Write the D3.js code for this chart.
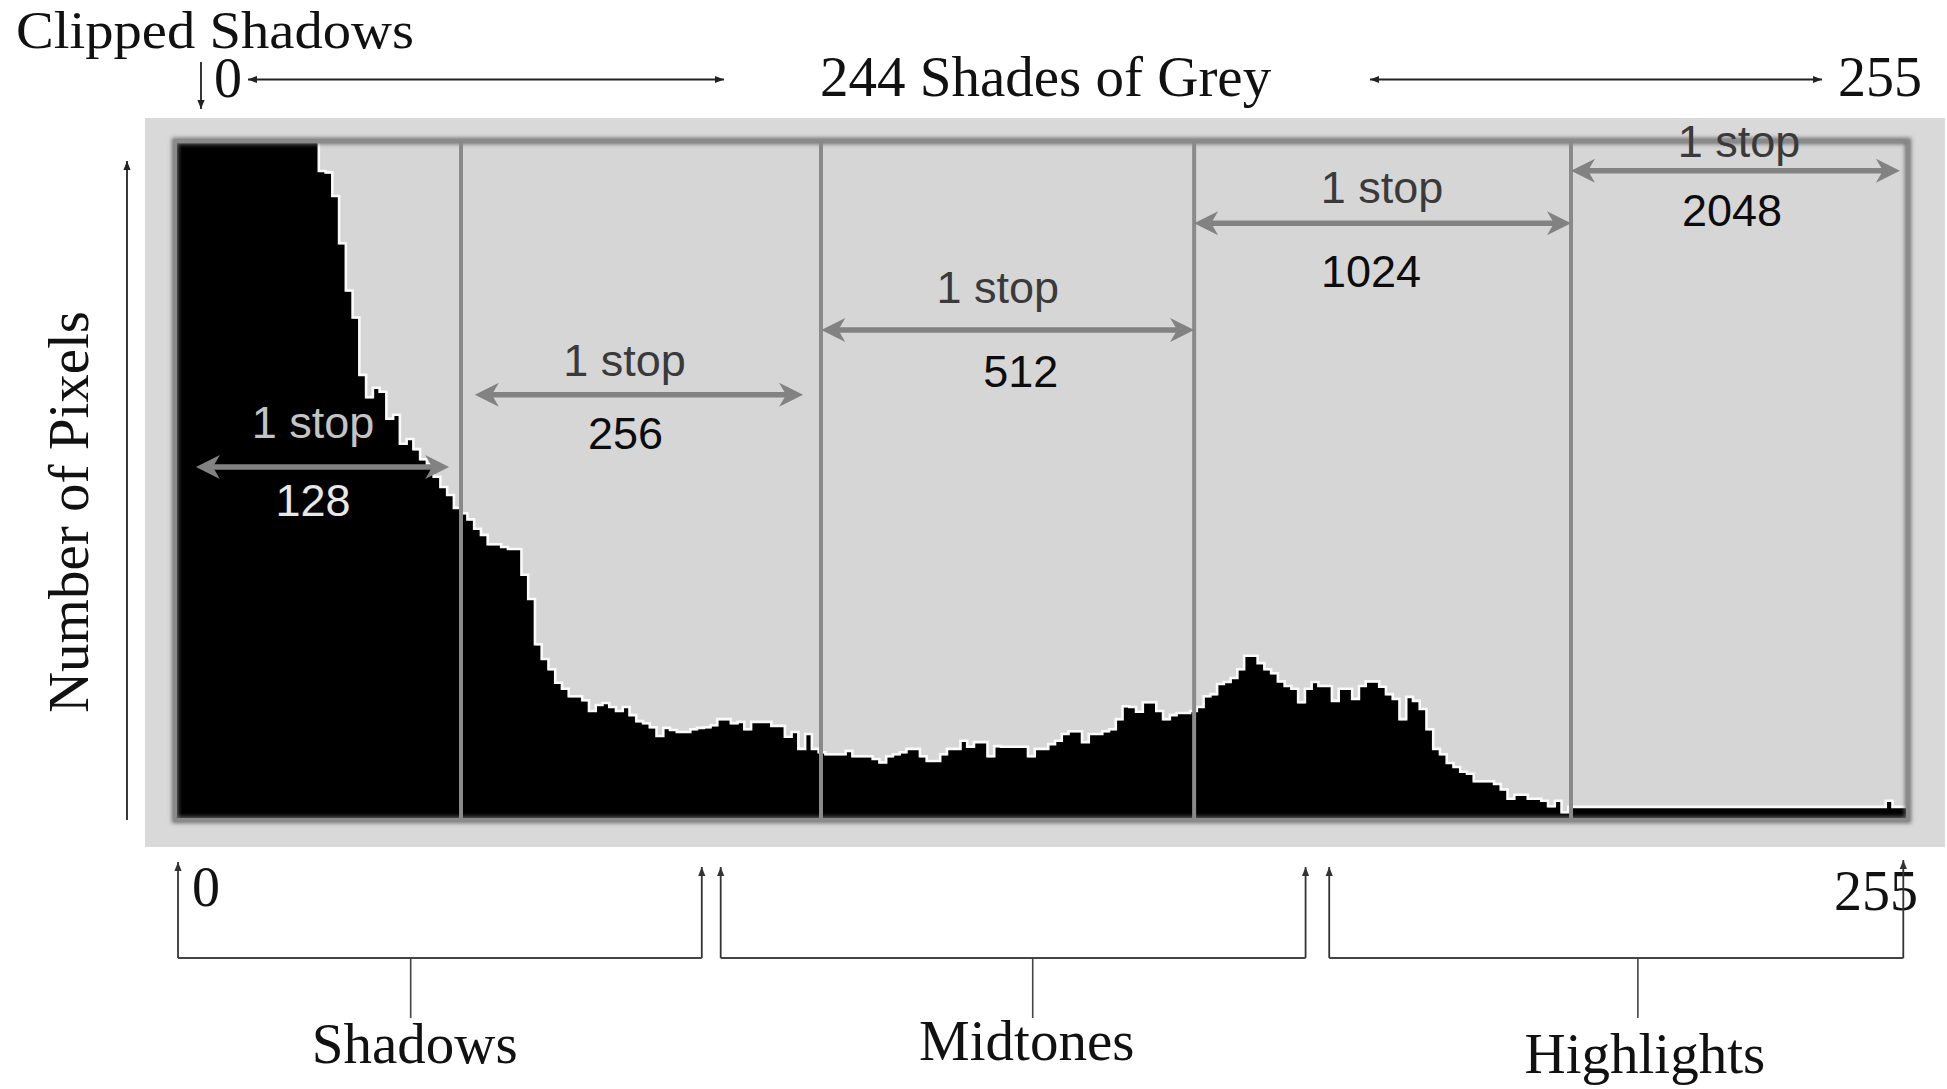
<!DOCTYPE html>
<html><head><meta charset="utf-8">
<script src="https://cdn.jsdelivr.net/npm/d3@7"></script>
<style>html,body{margin:0;padding:0;background:#fff;} svg{display:block}</style>
</head><body>
<svg id="chart" width="1947" height="1089"></svg>
<script>
// ---------------- DATA ----------------
const greyLevels = d3.range(256);
const pixelCounts = [
  1000,1000,1000,1000,1000,1000,1000,1000,1000,1000,1000,1000,1000,1000,1000,1000,1000,1000,1000,1000,1000,
  957,955,920,850,780,740,655,622,636,630,590,596,553,560,545,530,523,504,489,477,
  458,450,441,427,418,404,404,400,397,397,359,323,256,234,219,199,190,179,179,173,
  157,166,169,163,157,163,151,142,139,133,120,132,129,126,126,130,132,133,136,145,
  145,139,141,130,141,141,141,135,135,119,126,101,123,101,96,93,93,93,98,90,
  90,90,86,81,90,93,96,101,101,90,83,83,93,101,101,113,104,111,111,90,
  105,104,104,104,104,90,101,101,108,113,123,127,127,111,123,123,127,130,145,164,
  163,156,170,170,157,145,151,154,154,157,163,179,182,197,200,206,219,239,239,228,
  219,213,201,194,190,170,190,200,194,194,172,190,190,175,194,201,201,193,182,175,
  145,178,172,160,130,101,93,80,74,67,64,53,53,53,49,41,27,33,33,27,
  27,24,16,24,7,
  15,15,15,15,15,15,15,15,15,15,15,15,15,15,15,15,15,15,15,15,15,15,15,15,15,15,15,15,15,15,
  15,15,15,15,15,15,15,15,15,15,15,15,15,15,15,15,15,24,15,15
];
const clipLevel = 1000;
const stopNumbers = ["128", "256", "512", "1024", "2048"];
const stopStarts = [2.8, 44.1, 95.4, 150.6, 206.4];
const stopEnds = [40.3, 92.7, 150.6, 206.4, 255.1];
const stopLevels = [520, 627, 723, 881, 959];
const dividerLevels = [42.05, 95.35, 150.6, 206.4];
const toneNames = ["Shadows", "Midtones", "Highlights"];
const toneStarts = [0.15, 80.5, 170.6];
const toneEnds = [77.7, 167.1, 255.6];
const toneStems = [34.6, 126.7, 216.3];

// ---------------- LAYOUT ----------------
const svg = d3.select("#chart");
const X0 = 177, X1 = 1906, YB = 818, YT = 143;
const x = d3.scaleLinear().domain([0, 256]).range([X0, X1]);
const y = d3.scaleLinear().domain([0, clipLevel]).range([YB, YT]).clamp(true);
const serif = "'Liberation Serif','Times New Roman',serif";
const sans = "'Liberation Sans',Arial,sans-serif";

const defs = svg.append("defs");
defs.append("filter").attr("id", "blur").attr("x", "-5%").attr("y", "-5%").attr("width", "110%").attr("height", "110%")
  .append("feGaussianBlur").attr("stdDeviation", 2.2);
defs.append("clipPath").attr("id", "plotClip").append("rect")
  .attr("x", X0).attr("y", YT).attr("width", X1 - X0).attr("height", YB - YT);

// outer panel
svg.append("rect").attr("x", 145).attr("y", 118).attr("width", 1800).attr("height", 729).attr("fill", "#d9d9d9");
// inner plot background
svg.append("rect").attr("x", X0).attr("y", YT).attr("width", X1 - X0).attr("height", YB - YT).attr("fill", "#d6d6d6");

// histogram
const pts = greyLevels.map(i => [i, pixelCounts[i]]).concat([[256, pixelCounts[255]]]);
const g = svg.append("g").attr("clip-path", "url(#plotClip)");
g.append("path").datum(pts)
  .attr("d", d3.area().curve(d3.curveStepAfter).x(d => x(d[0])).y0(YB).y1(d => y(d[1])))
  .attr("fill", "#000");
g.append("path").datum(pts)
  .attr("d", d3.line().curve(d3.curveStepAfter).x(d => x(d[0])).y(d => y(d[1]) - 1))
  .attr("fill", "none").attr("stroke", "#fafafa").attr("stroke-width", 2.6);

// frame (soft shadow + line)
svg.append("rect").attr("x", 175).attr("y", 141).attr("width", 1733).attr("height", 679)
  .attr("fill", "none").attr("stroke", "#6e6e6e").attr("stroke-width", 6).attr("filter", "url(#blur)");
svg.append("rect").attr("x", 175).attr("y", 141).attr("width", 1733).attr("height", 679)
  .attr("fill", "none").attr("stroke", "#8a8a8a").attr("stroke-width", 3.5);
svg.append("line").attr("x1", 175).attr("x2", 1908).attr("y1", 820).attr("y2", 820)
  .attr("stroke", "#3a3a3a").attr("stroke-width", 4).attr("filter", "url(#blur)");

// stop dividers
svg.selectAll("line.divider").data(dividerLevels).join("line").attr("class", "divider")
  .attr("x1", d => x(d)).attr("x2", d => x(d)).attr("y1", 141).attr("y2", 819)
  .attr("stroke", "#8a8a8a").attr("stroke-width", 4);

// stop arrows
function bigHead(px, py, dir) {
  const L = 24, H = 12, N = 17;
  return `M${px},${py} L${px - dir * L},${py - H} L${px - dir * N},${py} L${px - dir * L},${py + H} Z`;
}
const stopTopDx = [-9.5, -14.5, -10, -0.5, 3.5];
const stopTopDy = [-29, -19, -27, -20.5, -14];
const stopNumDx = [-9.5, -13.5, 13, -11.5, -3.5];
const stopNumDy = [49, 54, 57, 63.5, 55];
const stopG = svg.append("g");
stopNumbers.forEach((lab, i) => {
  const xa = x(stopStarts[i]), xb = x(stopEnds[i]), ya = y(stopLevels[i]);
  const cx = (xa + xb) / 2;
  stopG.append("line").attr("x1", xa + 12).attr("x2", xb - 12).attr("y1", ya).attr("y2", ya)
    .attr("stroke", "#828282").attr("stroke-width", 5.5);
  stopG.append("path").attr("d", bigHead(xa, ya, -1)).attr("fill", "#828282");
  stopG.append("path").attr("d", bigHead(xb, ya, 1)).attr("fill", "#828282");
  const onBlack = i === 0;
  stopG.append("text").attr("x", cx + stopTopDx[i]).attr("y", ya + stopTopDy[i])
    .attr("text-anchor", "middle").attr("font-family", sans).attr("font-size", 45)
    .attr("fill", onBlack ? "#c4c4c4" : "#3a3a3a").text("1 stop");
  stopG.append("text").attr("x", cx + stopNumDx[i]).attr("y", ya + stopNumDy[i])
    .attr("text-anchor", "middle").attr("font-family", sans).attr("font-size", 45)
    .attr("fill", onBlack ? "#e8e8e8" : "#0c0c0c").text(lab);
});

// thin black arrows
function thinArrow(x1, y1, x2, y2, startHead, endHead, col) {
  col = col || "#222";
  const gg = svg.append("g");
  gg.append("line").attr("x1", x1).attr("y1", y1).attr("x2", x2).attr("y2", y2)
    .attr("stroke", col).attr("stroke-width", 1.8);
  const head = (px, py, ang) => {
    const L = 9, H = 3.6;
    const c = Math.cos(ang), s = Math.sin(ang);
    const p = (a, b) => [px + a * c - b * s, py + a * s + b * c];
    const A = p(0, 0), B = p(-L, -H), C = p(-L, H);
    gg.append("path").attr("d", `M${A}L${B}L${C}Z`).attr("fill", col);
  };
  const ang = Math.atan2(y2 - y1, x2 - x1);
  if (endHead) head(x2, y2, ang);
  if (startHead) head(x1, y1, ang + Math.PI);
}

// top annotations
svg.append("text").attr("x", 16).attr("y", 48).attr("font-family", serif).attr("font-size", 53)
  .attr("textLength", 398).attr("lengthAdjust", "spacingAndGlyphs").attr("fill", "#111").text("Clipped Shadows");
thinArrow(201, 62, 201, 109, false, true);
svg.append("text").attr("x", 214).attr("y", 97).attr("font-family", serif).attr("font-size", 56).attr("fill", "#111").text("0");
thinArrow(248, 79.5, 724, 79.5, true, true);
svg.append("text").attr("x", 820).attr("y", 96).attr("font-family", serif).attr("font-size", 57).attr("fill", "#111").text("244 Shades of Grey");
thinArrow(1370, 79.5, 1822, 79.5, true, true);
svg.append("text").attr("x", 1838).attr("y", 96).attr("font-family", serif).attr("font-size", 56).attr("fill", "#111").text("255");

// y axis label
thinArrow(127, 820, 127, 161, false, true);
svg.append("text").attr("transform", "translate(88,512) rotate(-90)").attr("text-anchor", "middle")
  .attr("font-family", serif).attr("font-size", 57).attr("fill", "#111").text("Number of Pixels");

// bottom brackets
const BY = 958;
svg.append("text").attr("x", 192).attr("y", 906).attr("font-family", serif).attr("font-size", 56).attr("fill", "#111").text("0");
svg.append("text").attr("x", 1834).attr("y", 910).attr("font-family", serif).attr("font-size", 56).attr("fill", "#111").text("255");
const toneLabelDy = [1063, 1060, 1073];
toneNames.forEach((name, i) => {
  const xa = x(toneStarts[i]), xb = x(toneEnds[i]), xs = x(toneStems[i]);
  const tipA = i === 0 ? 862 : 867;
  const tipB = i === 2 ? 860 : 867;
  thinArrow(xa, BY, xa, tipA, false, true, "#333");
  thinArrow(xb, BY, xb, tipB, false, true, "#333");
  svg.append("line").attr("x1", xa).attr("x2", xb).attr("y1", BY).attr("y2", BY).attr("stroke", "#444").attr("stroke-width", 2);
  svg.append("line").attr("x1", xs).attr("x2", xs).attr("y1", BY).attr("y2", 1018).attr("stroke", "#444").attr("stroke-width", 1.6);
  svg.append("text").attr("x", xs + 4 + (i === 2 ? 3 : 0) - (i === 1 ? 10 : 0)).attr("y", toneLabelDy[i])
    .attr("text-anchor", "middle").attr("font-family", serif).attr("font-size", 57).attr("fill", "#111").text(name);
});
</script>
</body></html>
